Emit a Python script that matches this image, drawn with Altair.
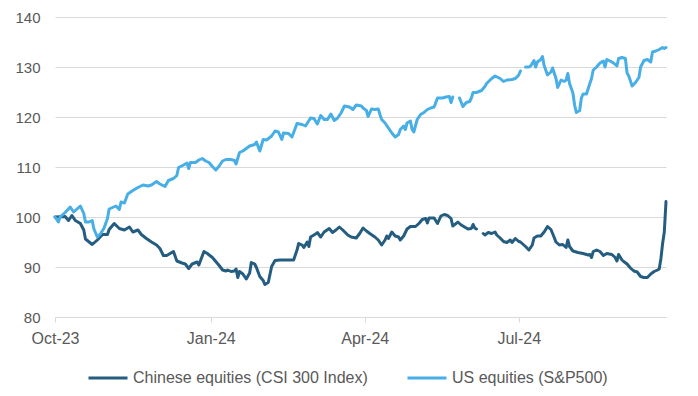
import altair as alt
import pandas as pd

CN_NAME = "Chinese equities (CSI 300 Index)"
US_NAME = "US equities (S&P500)"

cn_dates = [
    "2023-10-01", "2023-10-07", "2023-10-09", "2023-10-11", "2023-10-13", "2023-10-16", "2023-10-18",
    "2023-10-19", "2023-10-23", "2023-10-26", "2023-10-29", "2023-11-01", "2023-11-02", "2023-11-05",
    "2023-11-08", "2023-11-11", "2023-11-14", "2023-11-16", "2023-11-19", "2023-11-21", "2023-11-24",
    "2023-11-27", "2023-11-30", "2023-12-02", "2023-12-04", "2023-12-06", "2023-12-08", "2023-12-10",
    "2023-12-12", "2023-12-15", "2023-12-17", "2023-12-19", "2023-12-21", "2023-12-24", "2023-12-25",
    "2023-12-28", "2023-12-30", "2024-01-02", "2024-01-04", "2024-01-06", "2024-01-08", "2024-01-10",
    "2024-01-11", "2024-01-13", "2024-01-15", "2024-01-16", "2024-01-17", "2024-01-18", "2024-01-20",
    "2024-01-22", "2024-01-24", "2024-01-25", "2024-01-27", "2024-01-28", "2024-01-30", "2024-02-01",
    "2024-02-02", "2024-02-04", "2024-02-06", "2024-02-08", "2024-02-11", "2024-02-19", "2024-02-21",
    "2024-02-22", "2024-02-24", "2024-02-25", "2024-02-27", "2024-02-28", "2024-02-29", "2024-03-03",
    "2024-03-04", "2024-03-06", "2024-03-08", "2024-03-11", "2024-03-13", "2024-03-15", "2024-03-17",
    "2024-03-19", "2024-03-22", "2024-03-24", "2024-03-27", "2024-03-29", "2024-03-31", "2024-04-02",
    "2024-04-04", "2024-04-07", "2024-04-09", "2024-04-11", "2024-04-13", "2024-04-14", "2024-04-15",
    "2024-04-17", "2024-04-19", "2024-04-21", "2024-04-22", "2024-04-24", "2024-04-26", "2024-04-28",
    "2024-05-01", "2024-05-03", "2024-05-05", "2024-05-07", "2024-05-08", "2024-05-09", "2024-05-12",
    "2024-05-14", "2024-05-16", "2024-05-18", "2024-05-20", "2024-05-22", "2024-05-23", "2024-05-25",
    "2024-05-26", "2024-05-28", "2024-05-30", "2024-06-01", "2024-06-03", "2024-06-04", "2024-06-05",
    "2024-06-06", "2024-06-08", "2024-06-10", "2024-06-11", "2024-06-13", "2024-06-15", "2024-06-17",
    "2024-06-18", "2024-06-20", "2024-06-22", "2024-06-24", "2024-06-26", "2024-06-27", "2024-06-29",
    "2024-07-01", "2024-07-02", "2024-07-05", "2024-07-07", "2024-07-09", "2024-07-10", "2024-07-12",
    "2024-07-14", "2024-07-16", "2024-07-18", "2024-07-20", "2024-07-21", "2024-07-23", "2024-07-25",
    "2024-07-27", "2024-07-29", "2024-07-30", "2024-07-31", "2024-08-02", "2024-08-05", "2024-08-08",
    "2024-08-11", "2024-08-12", "2024-08-13", "2024-08-14", "2024-08-16", "2024-08-18", "2024-08-20",
    "2024-08-22", "2024-08-25", "2024-08-27", "2024-08-28", "2024-08-29", "2024-08-31", "2024-09-01",
    "2024-09-03", "2024-09-05", "2024-09-07", "2024-09-09", "2024-09-11", "2024-09-13", "2024-09-15",
    "2024-09-17", "2024-09-19", "2024-09-21", "2024-09-22", "2024-09-23", "2024-09-24", "2024-09-25",
    "2024-09-26",
]
cn_values = [
    100.0, 100.1, 99.3, 100.3, 99.3, 98.7, 97.4,
    95.6, 94.5, 95.4, 96.5, 96.5, 97.5, 98.7,
    97.7, 97.4, 98.0, 97.0, 97.4, 96.5, 95.7,
    95.0, 94.4, 93.7, 92.3, 92.3, 92.7, 93.1,
    91.2, 90.8, 90.6, 89.7, 90.6, 91.0, 90.4,
    93.1, 92.7, 91.9, 91.1, 90.3, 89.4, 89.2,
    89.4, 89.1, 89.2, 89.6, 87.9, 89.1, 88.6,
    87.6, 88.8, 90.9, 90.6, 89.9, 88.1, 87.3,
    86.5, 86.9, 90.1, 91.3, 91.4, 91.4, 93.4,
    94.7, 94.4, 93.9, 95.0, 94.1, 96.0, 96.6,
    96.9, 96.0, 97.0, 97.7, 96.9, 97.4, 98.0,
    97.4, 96.4, 96.0, 95.8, 96.7, 97.8, 97.2,
    96.7, 96.0, 95.4, 94.4, 95.4, 96.2, 95.7,
    97.0, 96.2, 96.0, 95.4, 96.2, 97.6, 98.1,
    98.1, 98.7, 99.5, 99.7, 98.8, 99.8, 99.8,
    98.7, 100.2, 100.5, 100.3, 99.7, 98.2, 98.7,
    99.0, 98.4, 98.0, 97.6, 97.7, 98.5, 97.8,
    97.6, None, 96.7, 96.4, 96.9, 96.7, 97.0,
    96.4, 95.8, 95.1, 94.9, 95.4, 94.9, 95.7,
    95.1, 95.0, 94.1, 93.4, 94.4, 95.8, 96.2,
    96.2, 97.0, 98.1, 97.5, 96.7, 95.0, 94.4,
    94.5, 93.9, 95.4, 94.1, 93.2, 92.9, 92.7,
    92.4, 92.5, 91.9, 93.1, 93.4, 93.1, 92.3,
    92.7, 92.5, 91.9, 91.2, 92.5, 91.4, 91.1,
    90.6, 89.8, 89.2, 89.0, 88.1, 87.9, 87.9,
    88.6, 89.1, 89.4, 89.6, 91.7, 94.7, 97.0,
    103.1,
]

us_dates = [
    "2023-10-01", "2023-10-03", "2023-10-04", "2023-10-07", "2023-10-10", "2023-10-12", "2023-10-14",
    "2023-10-16", "2023-10-18", "2023-10-19", "2023-10-21", "2023-10-23", "2023-10-24", "2023-10-26",
    "2023-10-28", "2023-10-30", "2023-11-01", "2023-11-02", "2023-11-04", "2023-11-06", "2023-11-08",
    "2023-11-09", "2023-11-11", "2023-11-13", "2023-11-16", "2023-11-19", "2023-11-22", "2023-11-25",
    "2023-11-27", "2023-11-30", "2023-12-02", "2023-12-05", "2023-12-07", "2023-12-10", "2023-12-12",
    "2023-12-13", "2023-12-16", "2023-12-18", "2023-12-19", "2023-12-20", "2023-12-23", "2023-12-25",
    "2023-12-27", "2023-12-29", "2023-12-31", "2024-01-02", "2024-01-04", "2024-01-06", "2024-01-08",
    "2024-01-10", "2024-01-13", "2024-01-15", "2024-01-16", "2024-01-18", "2024-01-20", "2024-01-22",
    "2024-01-24", "2024-01-27", "2024-01-28", "2024-01-30", "2024-02-01", "2024-02-03", "2024-02-06",
    "2024-02-08", "2024-02-10", "2024-02-12", "2024-02-13", "2024-02-16", "2024-02-18", "2024-02-21",
    "2024-02-24", "2024-02-26", "2024-02-29", "2024-03-02", "2024-03-04", "2024-03-06", "2024-03-08",
    "2024-03-10", "2024-03-12", "2024-03-14", "2024-03-16", "2024-03-18", "2024-03-20", "2024-03-23",
    "2024-03-25", "2024-03-27", "2024-03-30", "2024-03-31", "2024-04-02", "2024-04-03", "2024-04-05",
    "2024-04-07", "2024-04-09", "2024-04-10", "2024-04-11", "2024-04-13", "2024-04-15", "2024-04-17",
    "2024-04-19", "2024-04-21", "2024-04-22", "2024-04-24", "2024-04-25", "2024-04-26", "2024-04-28",
    "2024-04-29", "2024-04-30", "2024-05-02", "2024-05-04", "2024-05-06", "2024-05-08", "2024-05-10",
    "2024-05-12", "2024-05-14", "2024-05-17", "2024-05-19", "2024-05-21", "2024-05-22", "2024-05-23",
    "2024-05-25", "2024-05-27", "2024-05-29", "2024-05-31", "2024-06-02", "2024-06-03", "2024-06-04",
    "2024-06-06", "2024-06-09", "2024-06-11", "2024-06-12", "2024-06-15", "2024-06-17", "2024-06-20",
    "2024-06-22", "2024-06-24", "2024-06-27", "2024-06-29", "2024-07-01", "2024-07-02", "2024-07-04",
    "2024-07-05", "2024-07-07", "2024-07-08", "2024-07-10", "2024-07-11", "2024-07-12", "2024-07-14",
    "2024-07-15", "2024-07-16", "2024-07-18", "2024-07-20", "2024-07-21", "2024-07-23", "2024-07-24",
    "2024-07-26", "2024-07-28", "2024-07-29", "2024-07-30", "2024-07-31", "2024-08-02", "2024-08-03",
    "2024-08-04", "2024-08-06", "2024-08-07", "2024-08-08", "2024-08-10", "2024-08-12", "2024-08-13",
    "2024-08-14", "2024-08-16", "2024-08-18", "2024-08-20", "2024-08-21", "2024-08-22", "2024-08-24",
    "2024-08-26", "2024-08-28", "2024-08-29", "2024-08-31", "2024-09-02", "2024-09-03", "2024-09-04",
    "2024-09-06", "2024-09-08", "2024-09-10", "2024-09-11", "2024-09-13", "2024-09-15", "2024-09-17",
    "2024-09-18", "2024-09-20", "2024-09-22", "2024-09-24", "2024-09-25", "2024-09-26",
]
us_values = [
    100.0, 99.0, 100.0, 100.9, 102.0, 101.0, 101.6,
    102.2, 100.7, 99.0, 99.0, 99.3, 97.6, 96.0,
    96.7, 97.8, 99.7, 101.6, 101.9, 102.2, 101.5,
    103.0, 102.8, 104.6, 105.3, 105.9, 106.4, 106.2,
    106.4, 107.1, 106.6, 106.1, 107.3, 107.7, 108.3,
    109.9, 110.4, 110.8, 109.7, 110.9, 110.9, 111.4,
    111.7, 111.2, 110.9, 110.1, 109.4, 110.2, 111.2,
    111.5, 111.5, 111.3, 110.6, 112.9, 113.2, 113.7,
    114.2, 114.5, 115.0, 113.2, 115.5, 115.4, 116.2,
    117.2, 117.0, 115.5, 116.8, 116.7, 116.0, 118.7,
    118.5, 118.2, 119.8, 119.7, 118.6, 120.3, 119.5,
    119.5, 120.6, 119.3, 119.8, 120.8, 122.2, 122.0,
    121.5, 122.4, 122.2, 121.8, 121.3, 120.1, 121.6,
    121.5, 121.6, 120.5, 119.5, 118.8, 117.8, 116.8,
    116.0, 116.5, 117.5, 118.2, 117.5, 118.8, 119.2,
    117.5, 117.0, 119.5, 120.5, 120.9, 121.5, 121.8,
    122.0, 123.8, 123.8, 124.0, 124.1, 122.9, 124.0,
    None, 123.8, 122.1, 122.9, 123.1, 123.8, 124.9,
    124.9, 125.3, 126.1, 126.7, 127.7, 128.2, 127.7,
    127.1, 127.4, 127.5, 127.7, 128.4, 129.2, None,
    130.0, 130.0, 130.2, 131.3, 130.0, 131.0, 131.5,
    132.1, 130.3, 128.4, 129.0, 129.8, 127.7, 125.9,
    127.4, 127.1, 127.4, 128.7, 126.7, 124.8, 122.4,
    120.9, 121.3, 123.8, 124.6, 124.6, 126.7, 127.7,
    129.4, 130.0, 130.8, 131.2, 130.0, 131.5, 131.2,
    130.8, 130.2, 131.7, 131.9, 131.7, 128.8, 128.2,
    126.2, 126.9, 127.9, 130.0, 131.3, 131.5, 131.0,
    133.0, 133.2, 133.5, 133.9, 133.7, 133.9,
]

series_names = [CN_NAME, US_NAME]
series_colors = ["#245d80", "#48aee6"]
y_ticks = [80, 90, 100, 110, 120, 130, 140]

df = pd.concat([
    pd.DataFrame({"date": cn_dates, "value": cn_values, "series": CN_NAME}),
    pd.DataFrame({"date": us_dates, "value": us_values, "series": US_NAME}),
], ignore_index=True)

x_enc = alt.X(
    "date:T",
    scale=alt.Scale(
        type="utc",
        domain=[alt.DateTime(year=2023, month=10, date=1, utc=True),
                alt.DateTime(year=2024, month=9, date=26, utc=True)],
        nice=False,
    ),
    axis=alt.Axis(
        title=None,
        values=[alt.DateTime(year=2023, month=10, date=1, utc=True),
                alt.DateTime(year=2024, month=1, date=1, utc=True),
                alt.DateTime(year=2024, month=4, date=1, utc=True),
                alt.DateTime(year=2024, month=7, date=1, utc=True)],
        labelExpr="utcFormat(datum.value, '%b-%y')",
        grid=False,
        ticks=True,
        tickSize=5,
        tickColor="#d9d9d9",
        domainColor="#d9d9d9",
        labelPadding=8,
        labelFontSize=16,
        labelColor="#595959",
        labelFont="Liberation Sans",
        labelAlign="center",
    ),
)

y_enc = alt.Y(
    "value:Q",
    scale=alt.Scale(domain=[80, 140], nice=False, zero=False),
    axis=alt.Axis(
        title=None,
        values=y_ticks,
        grid=True,
        gridColor="#d9d9d9",
        gridWidth=1,
        domain=False,
        ticks=False,
        labelPadding=15,
        labelFontSize=15,
        labelColor="#595959",
        labelFont="Liberation Sans",
    ),
)

chart = alt.Chart(df).mark_line(strokeWidth=3, strokeJoin="round", strokeCap="round").encode(
    x=x_enc,
    y=y_enc,
    color=alt.Color(
        "series:N",
        scale=alt.Scale(domain=series_names, range=series_colors),
        legend=alt.Legend(
            title=None,
            orient="none",
            legendX=32,
            legendY=340,
            direction="horizontal",
            symbolType="stroke",
            symbolSize=1521,
            symbolStrokeWidth=3,
            labelFontSize=16,
            labelColor="#595959",
            labelFont="Liberation Sans",
            labelLimit=0,
            labelOffset=4,
            columnPadding=33,
            padding=0,
        ),
    ),
    detail="series:N",
).properties(
    width=611,
    height=300,
    autosize=alt.AutoSizeParams(type="none"),
    padding={"left": 47, "top": 9, "right": 16, "bottom": 76},
    background="white",
).configure_view(stroke=None)

chart.save("out.html", embed_options={"renderer": "svg", "actions": False})
